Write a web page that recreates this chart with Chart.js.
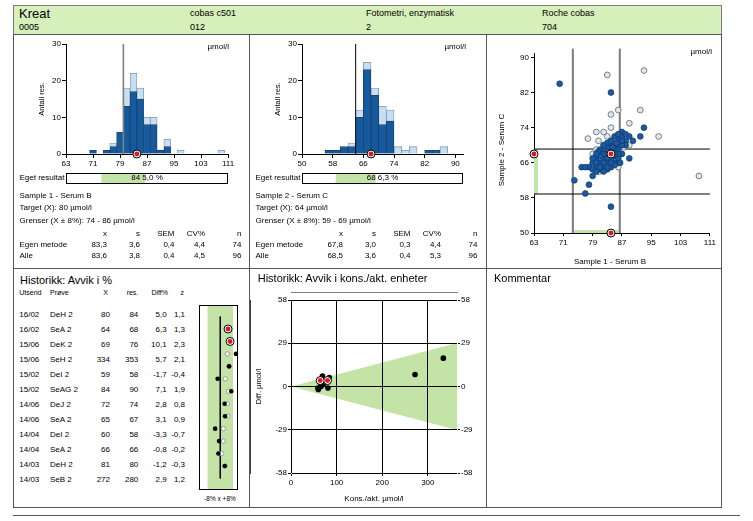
<!DOCTYPE html>
<html>
<head>
<meta charset="utf-8">
<title>Kreat</title>
<script src="https://cdn.jsdelivr.net/npm/chart.js@4.4.1/dist/chart.umd.min.js"></script>
<style>
  body { margin: 0; background: #fff; }
  #page { position: relative; width: 753px; height: 521px; overflow: hidden; font-family: "Liberation Sans", Arial, sans-serif; color: #000; }
  .t { position: absolute; white-space: nowrap; line-height: 1; }
  .box { position: absolute; box-sizing: border-box; }
  canvas { position: absolute; }
</style>
</head>
<body>
<div id="page"></div>
<script>
// header
const headerTop = ["Kreat", "cobas c501", "Fotometri, enzymatisk", "Roche cobas"];
const headerBottom = ["0005", "012", "2", "704"];

// sample 1 - Serum B
const hist1Centers = [71, 73, 75, 77, 79, 81, 83, 85, 87, 89, 91, 93, 95, 97, 99, 101, 103, 105, 107, 109];
const hist1Own = [1, 0, 1, 2, 6, 13, 17, 15, 8, 8, 1, 2, 0, 0, 0, 0, 0, 0, 0, 0];
const hist1Other = [0, 0, 0, 1, 0, 5, 5, 3, 2, 2, 0, 2, 0, 1, 0, 0, 0, 0, 0, 1];
const hist1Ticks = [63, 71, 79, 87, 95, 103, 111];
const sample1Target = 80;
const sample1Limits = [73.6, 86.4];
const sample1Result = 84;
const sample1Lines = ["Sample 1 - Serum B", "Target (X): 80 µmol/l", "Grenser (X ± 8%): 74 - 86 µmol/l"];
const sample1Own = ["83,3", "3,6", "0,4", "4,4", "74"];
const sample1All = ["83,6", "3,8", "0,4", "4,5", "96"];

// sample 2 - Serum C
const hist2Centers = [57, 59, 61, 63, 65, 67, 69, 71, 73, 75, 77, 79, 81, 83, 85, 87];
const hist2Own = [1, 1, 2, 2, 10, 23, 16, 8, 9, 0, 0, 0, 0, 1, 1, 0];
const hist2Other = [0, 0, 0, 1, 2, 2, 2, 5, 3, 2, 1, 2, 0, 0, 0, 2];
const hist2Ticks = [50, 58, 66, 74, 82, 90];
const sample2Target = 64;
const sample2Limits = [58.88, 69.12];
const sample2Result = 68;
const sample2Lines = ["Sample 2 - Serum C", "Target (X): 64 µmol/l", "Grenser (X ± 8%): 59 - 69 µmol/l"];
const sample2Own = ["67,8", "3,0", "0,3", "4,4", "74"];
const sample2All = ["68,5", "3,6", "0,4", "5,3", "96"];
const statCols = ["x", "s", "SEM", "CV%", "n"];

// sample 1 vs sample 2 (egen metode / andre metoder)
const scatterOwn = [
  [70, 84], [84, 82], [93, 74], [92, 72], [89, 67], [74, 62], [78, 61], [77, 59], [84, 56], [79, 63],
  [76, 65], [87, 73], [89, 72], [86, 71.5], [88, 71], [90, 71], [88, 70], [86, 70], [85, 72], [87, 72],
  [86, 69], [87, 68], [84, 70], [83, 69.5], [82, 69], [85, 69], [81, 68], [83, 68], [85, 67.5], [80, 67],
  [82, 67], [84, 67], [86, 66], [79, 66], [81, 66], [83, 66], [85, 66], [78, 65], [80, 65], [82, 65],
  [84, 65], [77, 65], [79, 64.5], [81, 64.5], [83, 64.5], [85, 65.5], [82, 64], [80, 64], [79, 67], [81, 69],
  [83, 70.5], [82, 68], [80, 66], [86, 67], [83, 67], [84, 66], [81, 67.5], [86.5, 66], [80.5, 68.5], [84.5, 69.5],
  [85.5, 70.5], [86, 68], [82, 66], [84, 68.5], [83, 65], [81, 65], [80, 68], [82, 70], [85, 68], [87, 70],
  [86, 72.5], [84, 71], [88, 72.5], [87, 71]
];
const scatterOther = [
  [83, 86], [93, 87], [86, 78], [92, 78], [84, 77], [89, 75], [84, 74], [80, 73], [82, 73], [77.7, 71.5],
  [80.6, 71], [84, 71], [97, 72], [108, 63], [80, 69], [86, 65], [80.8, 64], [89, 70], [87.5, 69.5], [82, 70],
  [79, 68], [83, 72]
];
const scatterXTicks = [63, 71, 79, 87, 95, 103, 111];
const scatterYTicks = [50, 58, 66, 74, 82, 90];

// historikk
const histCols = ["Utsend", "Prøve", "X", "res.", "Diff%", "z"];
const histDate = ["16/02", "16/02", "15/06", "15/06", "15/02", "15/02", "14/06", "14/06", "14/04", "14/04", "14/03", "14/03"];
const histSample = ["DeH 2", "SeA 2", "DeK 2", "SeH 2", "DeI 2", "SeAG 2", "DeJ 2", "SeA 2", "DeI 2", "SeA 2", "DeH 2", "SeB 2"];
const histX = [80, 64, 69, 334, 59, 84, 72, 65, 60, 66, 81, 272];
const histRes = [84, 68, 76, 353, 58, 90, 74, 67, 58, 66, 80, 280];
const histDiffPct = [5.0, 6.3, 10.1, 5.7, -1.7, 7.1, 2.8, 3.1, -3.3, -0.8, -1.2, 2.9];
const histZ = [1.1, 1.3, 2.3, 2.1, -0.4, 1.9, 0.8, 0.9, -0.7, -0.2, -0.3, 1.2];
const histGroupPct = [4.8, 5.8, 4.5, 5.5, 3.2, 5.4, 4.5, 4.9, 2.0, 1.8, 0.9, 3.0];
const limitPct = 8;
const diffTicks = [-58, -29, 0, 29, 58];
const concTicks = [0, 100, 200, 300];
const bandX = [0, 364];
const bandUpper = [0, 29.1];
const bandLower = [0, -29.1];

const DARK = "#15599f";
const LIGHT = "#c8def2";
const GREEN = "#c3e4a6";
const RED = "#e2161d";

Chart.defaults.font.family = "'Liberation Sans', Arial, sans-serif";
Chart.defaults.font.size = 8;
Chart.defaults.color = "#000";

const page = document.getElementById("page");

function box(x, y, w, h, css) {
  const d = document.createElement("div");
  d.className = "box";
  Object.assign(d.style, { left: x + "px", top: y + "px", width: w + "px", height: h + "px" }, css);
  page.appendChild(d);
}

function text(str, x, y, size, align, css) {
  const d = document.createElement("div");
  d.className = "t";
  d.textContent = str;
  d.style.left = x + "px";
  d.style.top = y - size / 2 + "px";
  d.style.fontSize = size + "px";
  if (align === "right") d.style.transform = "translateX(-100%)";
  if (align === "center") d.style.transform = "translateX(-50%)";
  if (align === "vertical") {
    d.style.top = y + "px";
    d.style.transform = "translate(-50%, -50%) rotate(-90deg)";
  }
  Object.assign(d.style, css || {});
  page.appendChild(d);
}

function canvas(x, y, w, h) {
  const c = document.createElement("canvas");
  c.width = w;
  c.height = h;
  Object.assign(c.style, { left: x + "px", top: y + "px", width: w + "px", height: h + "px" });
  page.appendChild(c);
  return c;
}

const fmt = (v) => v.toFixed(1).replace(".", ",");
const pts = (arr) => arr.map((p) => ({ x: p[0], y: p[1] }));
const fixTicks = (list) => (s) => { s.ticks = list.map((v) => ({ value: v })); };

const frame = {
  id: "frame",
  afterDraw(chart) {
    const a = chart.chartArea, c = chart.ctx;
    c.save();
    c.strokeStyle = "#000";
    c.lineWidth = 1;
    c.strokeRect(a.left + 0.5, a.top + 0.5, a.right - a.left - 1, a.bottom - a.top - 1);
    c.restore();
  },
};

function redMarker(points, r) {
  return [
    { type: "scatter", data: points, pointRadius: r * 0.62, pointBackgroundColor: RED, pointBorderWidth: 0, clip: false, stack: "mi" },
    { type: "scatter", data: points, pointRadius: r, pointBackgroundColor: "#fff", pointBorderColor: "#000", pointBorderWidth: 1, clip: false, stack: "mo" },
  ];
}

const base = {
  responsive: false,
  animation: false,
  devicePixelRatio: 1,
  plugins: { legend: { display: false }, tooltip: { enabled: false } },
};

// ---- frames ----
box(13, 5, 709, 30, { background: "#d6efbb", border: "1px solid #7d7d7d" });
box(13, 34, 709, 474, { border: "1px solid #555" });
box(13, 268, 709, 1, { background: "#555" });
box(249, 34, 1, 474, { background: "#555" });
box(486, 34, 1, 474, { background: "#555" });
box(13, 515, 727, 1, { background: "#555" });

const headerX = [19, 190, 366, 542];
headerTop.forEach((s, i) => text(s, headerX[i], 13, i === 0 ? 13 : 9));
headerBottom.forEach((s, i) => text(s, headerX[i], 27, 9));

// ---- histograms ----
function histogram(el, centers, own, other, range, ticks, target, lineColor, result) {
  const barStyle = { barPercentage: 1, categoryPercentage: 1, borderWidth: 0.8, stack: "hist" };
  return new Chart(el, {
    type: "bar",
    data: {
      datasets: [
        ...redMarker([{ x: result, y: 0 }], 4),
        { type: "line", data: [{ x: target, y: 0 }, { x: target, y: 30 }], borderColor: lineColor, borderWidth: lineColor === "#000" ? 1 : 1.6, pointRadius: 0, stack: "target" },
        { label: "Egen metode", data: centers.map((c, i) => ({ x: c, y: own[i] || null })), backgroundColor: DARK, borderColor: "#1f3e5e", ...barStyle },
        { label: "Alle", data: centers.map((c, i) => ({ x: c, y: other[i] || null })), backgroundColor: LIGHT, borderColor: "#7e97ae", ...barStyle },
      ],
    },
    options: {
      ...base,
      layout: { padding: { top: 8, right: 8, left: 0, bottom: 0 } },
      scales: {
        x: {
          type: "linear", min: range[0], max: range[1], offset: false, stacked: true,
          afterBuildTicks: fixTicks(ticks),
          afterFit: (s) => { s.height = 16; },
          grid: { drawOnChartArea: false, offset: false, tickLength: 4, color: "#000" },
          border: { color: "#000" },
          ticks: { padding: 1, autoSkip: false, maxRotation: 0 },
        },
        y: {
          type: "linear", min: 0, max: 30, stacked: true,
          afterBuildTicks: fixTicks([0, 10, 20, 30]),
          afterFit: (s) => { s.width = 30; },
          title: { display: true, text: "Antall res.", font: { size: 7.5 }, padding: { top: 1.5, bottom: 0 } },
          grid: { drawOnChartArea: false, tickLength: 4, color: "#000" },
          border: { color: "#000" },
          ticks: { padding: 1 },
        },
      },
    },
  });
}

function resultBar(el, range, limits) {
  return new Chart(el, {
    type: "bar",
    data: { labels: ["Eget resultat"], datasets: [{ data: [limits], backgroundColor: GREEN, borderWidth: 0, barPercentage: 1, categoryPercentage: 1 }] },
    options: {
      ...base,
      indexAxis: "y",
      layout: { padding: 0 },
      scales: { x: { min: range[0], max: range[1], display: false }, y: { display: false } },
    },
    plugins: [frame],
  });
}

function samplePanel(px, lines, result, diffPct, boxCenter, own, all) {
  text("Eget resultat", px + 6.5, 178, 8);
  text(result + "\u00a0" + fmt(diffPct) + " %", boxCenter, 178.3, 8, "center");
  lines.forEach((s, i) => text(s, px + 6.5, 196 + i * 12.3, 8));
  const cols = [94, 127, 161.5, 192, 228.5];
  statCols.forEach((s, i) => text(s, px + cols[i], 234, 8, "right"));
  text("Egen metode", px + 6.5, 245, 8);
  text("Alle", px + 6.5, 256, 8);
  own.forEach((s, i) => text(s, px + cols[i], 245, 8, "right"));
  all.forEach((s, i) => text(s, px + cols[i], 256, 8, "right"));
}

histogram(canvas(36, 36, 200, 134), hist1Centers, hist1Own, hist1Other, [63, 111], hist1Ticks, sample1Target, "#7f7f7f", sample1Result);
histogram(canvas(272, 36, 199, 134), hist2Centers, hist2Own, hist2Other, [50, 92], hist2Ticks, sample2Target, "#000", sample2Result);
text("µmol/l", 229, 47, 8, "right");
text("µmol/l", 466, 47, 8, "right");
resultBar(canvas(66, 173, 162, 11), [63, 111], sample1Limits);
resultBar(canvas(302, 173, 161, 11), [50, 92], sample2Limits);
samplePanel(13, sample1Lines, sample1Result, (sample1Result - sample1Target) / sample1Target * 100, 147, sample1Own, sample1All);
samplePanel(249, sample2Lines, sample2Result, (sample2Result - sample2Target) / sample2Target * 100, 382.5, sample2Own, sample2All);

// ---- scatter sample 1 vs sample 2 ----
new Chart(canvas(494, 45, 224, 222), {
  type: "scatter",
  data: {
    datasets: [
      ...redMarker([{ x: sample1Result, y: sample2Result }, { x: sample1Result, y: 50 }, { x: 63, y: sample2Result }], 4),
      { label: "Egen metode", data: pts(scatterOwn), pointRadius: 2.9, pointBackgroundColor: "#1b5aa3", pointBorderColor: "#0e3563", pointBorderWidth: 0.7 },
      { label: "Andre", data: pts(scatterOther), pointRadius: 2.9, pointBackgroundColor: "#dfe6ee", pointBorderColor: "#6b7480", pointBorderWidth: 0.9 },
      { type: "line", data: [{ x: 63, y: sample2Limits[0] }, { x: 111, y: sample2Limits[0] }], borderColor: "#000", borderWidth: 1, pointRadius: 0 },
      { type: "line", data: [{ x: 63, y: sample2Limits[1] }, { x: 111, y: sample2Limits[1] }], borderColor: "#000", borderWidth: 1, pointRadius: 0 },
      { type: "line", data: [{ x: sample1Limits[0], y: 50 }, { x: sample1Limits[0], y: 92 }], borderColor: "#7a7a7a", borderWidth: 2, pointRadius: 0, clip: { left: 0, right: 0, bottom: 0, top: 5 } },
      { type: "line", data: [{ x: sample1Limits[1], y: 50 }, { x: sample1Limits[1], y: 92 }], borderColor: "#7a7a7a", borderWidth: 2, pointRadius: 0, clip: { left: 0, right: 0, bottom: 0, top: 5 } },
      { type: "line", data: [{ x: sample1Limits[0], y: 50 }, { x: sample1Limits[1], y: 50 }], borderColor: GREEN, borderWidth: 6, pointRadius: 0 },
      { type: "line", data: [{ x: 63, y: sample2Limits[0] }, { x: 63, y: sample2Limits[1] }], borderColor: GREEN, borderWidth: 8, pointRadius: 0 },
    ],
  },
  options: {
    ...base,
    layout: { padding: { top: 8, right: 8, left: 0, bottom: 0 } },
    scales: {
      x: {
        min: 63, max: 111,
        afterBuildTicks: fixTicks(scatterXTicks),
        afterFit: (s) => { s.height = 34; },
        grid: { drawOnChartArea: false, tickLength: 3, color: "#000" },
        border: { color: "#000" },
        ticks: { padding: 2, autoSkip: false, maxRotation: 0 },
      },
      y: {
        min: 50, max: 91,
        afterBuildTicks: fixTicks(scatterYTicks),
        afterFit: (s) => { s.width = 40; },
        grid: { drawOnChartArea: false, tickLength: 3, color: "#000" },
        border: { color: "#000" },
        ticks: { padding: 2 },
      },
    },
  },
});
text("µmol/l", 712, 52, 8, "right");
text("Sample 1 - Serum B", 610, 262, 8, "center");
text("Sample 2 - Serum C", 502, 150, 8, "vertical");

// ---- historikk: avvik i % ----
text("Historikk: Avvik i %", 20, 280, 11);
text("Kommentar", 494, 278, 11);
text(histCols[0], 19.3, 292, 7);
text(histCols[1], 50, 292, 7);
text(histCols[2], 108, 292, 7, "right");
text(histCols[3], 138.3, 292, 7, "right");
text(histCols[4], 168, 292, 7, "right");
text(histCols[5], 184, 292, 7, "right");
histDate.forEach((d, i) => {
  const y = 314.7 + 15 * i;
  text(d, 19.3, y, 8);
  text(histSample[i], 50, y, 8);
  text(String(histX[i]), 110, y, 8, "right");
  text(String(histRes[i]), 138.3, y, 8, "right");
  text(fmt(histDiffPct[i]), 166.7, y, 8, "right");
  text(fmt(histZ[i]), 185, y, 8, "right");
});
text("-8% x +8%", 220, 499, 6.5, "center");

const rows = histDate.map((d, i) => i);
const current = rows.filter((i) => histDate[i] === histDate[0]);
const earlier = rows.filter((i) => histDate[i] !== histDate[0]);
const bandRows = [-2, -1, ...rows, rows.length, rows.length + 1];

new Chart(canvas(194, 300, 49, 195), {
  type: "scatter",
  data: {
    datasets: [
      ...redMarker(current.map((i) => ({ x: histDiffPct[i], y: i })), 4),
      { data: earlier.map((i) => ({ x: histDiffPct[i], y: i })), pointRadius: 2.3, pointBackgroundColor: "#000", pointBorderWidth: 0, clip: false },
      { data: rows.map((i) => ({ x: histGroupPct[i], y: i })), pointRadius: 2.2, pointBackgroundColor: "#fff", pointBorderColor: "#9a9a9a", pointBorderWidth: 1 },
      { type: "line", data: [{ x: 0, y: -1 }, { x: 0, y: rows.length }], borderColor: "#000", borderWidth: 1, pointRadius: 0 },
      { type: "bar", indexAxis: "y", grouped: false, data: bandRows.map((r) => ({ y: r, x: [-limitPct, limitPct] })), backgroundColor: GREEN, borderWidth: 0, barPercentage: 1, categoryPercentage: 1 },
    ],
  },
  options: {
    ...base,
    layout: { padding: 0 },
    scales: {
      x: { type: "linear", min: -13.7, max: 11.4, display: false },
      y: { type: "linear", min: -1, max: 12, reverse: true, display: false },
    },
  },
  plugins: [frame],
});

// ---- historikk: avvik i kons./akt. enheter ----
text("Historikk: Avvik i kons./akt. enheter", 257.7, 278, 11);
new Chart(canvas(250, 292, 229, 213), {
  type: "scatter",
  data: {
    datasets: [
      ...redMarker(current.map((i) => ({ x: histX[i], y: histRes[i] - histX[i] })), 4),
      { data: earlier.map((i) => ({ x: histX[i], y: histRes[i] - histX[i] })), pointRadius: 2.8, pointBackgroundColor: "#000", pointBorderWidth: 0 },
      { type: "line", data: bandX.map((x, i) => ({ x, y: bandUpper[i] })), borderWidth: 0, pointRadius: 0, backgroundColor: GREEN, fill: "+1" },
      { type: "line", data: bandX.map((x, i) => ({ x, y: bandLower[i] })), borderWidth: 0, pointRadius: 0 },
    ],
  },
  options: {
    ...base,
    layout: { padding: { top: 8, right: 0, left: 0, bottom: 0 } },
    scales: {
      x: {
        min: 0, max: 364,
        afterBuildTicks: fixTicks(concTicks),
        afterFit: (s) => { s.height = 32; },
        title: { display: true, text: "Kons./akt. µmol/l", padding: { top: 0, bottom: 1 } },
        grid: { color: "#000", tickLength: 3, z: 1 },
        border: { color: "#000" },
        ticks: { padding: 2, autoSkip: false, maxRotation: 0 },
      },
      y: {
        min: -58, max: 58,
        afterBuildTicks: fixTicks(diffTicks),
        afterFit: (s) => { s.width = 41; },
        title: { display: true, text: "Diff. µmol/l", font: { size: 7.5 }, padding: { top: 4, bottom: 0 } },
        grid: { color: "#000", tickLength: 3, z: 1 },
        border: { color: "#000" },
        ticks: { padding: 1 },
      },
      y2: {
        position: "right", min: -58, max: 58,
        afterBuildTicks: fixTicks(diffTicks),
        afterFit: (s) => { s.width = 22; },
        grid: { drawOnChartArea: false, color: "#000", tickLength: 3, z: 1 },
        border: { color: "#000" },
        ticks: { padding: 1 },
      },
    },
  },
});
</script>
</body>
</html>
